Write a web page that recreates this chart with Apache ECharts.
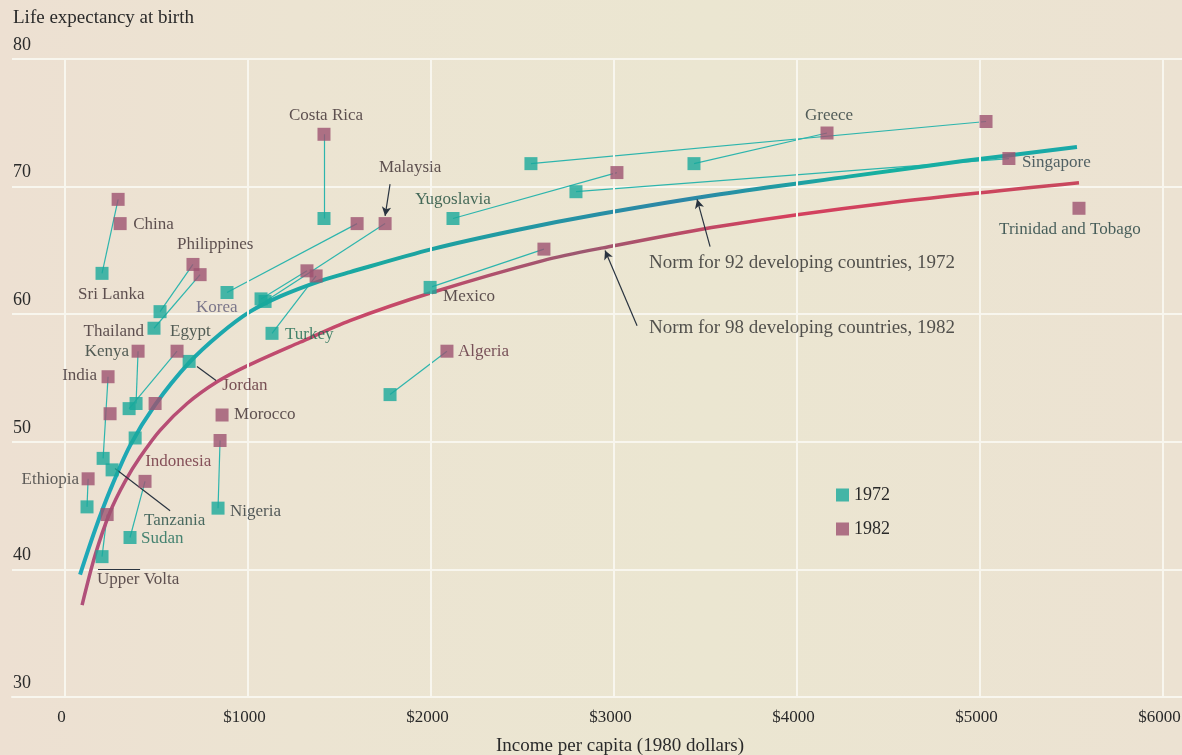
<!DOCTYPE html>
<html>
<head>
<meta charset="utf-8">
<script src="https://cdn.jsdelivr.net/npm/echarts@6/dist/echarts.min.js"></script>
<style>
  html, body { margin: 0; padding: 0; background: #ebe5d2; }
  #chart { width: 1182px; height: 755px; }
</style>
</head>
<body>
<div id="chart"></div>
<script>
// 国家数据：1972 与 1982 的人均收入（1980 美元）和出生时预期寿命
var countries  = ['Sri Lanka', 'China', 'Philippines', 'Thailand', 'Korea', 'Kenya', 'Egypt', 'Jordan', 'India', '', 'Indonesia', 'Morocco', 'Nigeria', 'Ethiopia', 'Tanzania', 'Sudan', 'Upper Volta', 'Costa Rica', 'Malaysia', 'Turkey', '', 'Yugoslavia', 'Mexico', 'Algeria', 'Greece', '', 'Singapore', 'Trinidad and Tobago'];
var income1972 = [202, null, 519, 486, 885, 388, 350, 678, 208, null, 383, null, 836, 120, 257, 355, 202, 1415, 1093, 1131, 1071, 2120, 1995, 1776, 3437, 2546, 2792, null];
var life1972   = [63.2, null, 60.2, 58.9, 61.7, 53.0, 52.6, 56.3, 48.7, null, 50.3, null, 44.8, 44.9, 47.8, 42.5, 41.0, 67.5, 61.0, 58.5, 61.2, 67.5, 62.1, 53.7, 71.8, 71.8, 69.6, null];
var income1982 = [290, 301, 699, 738, 1596, 399, 612, null, 235, 246, 492, 858, 847, 126, null, 437, 230, 1415, 1749, 1372, 1322, 3016, 2617, 2087, 4164, 5033, 5158, 5541];
var life1982   = [69.0, 67.1, 63.9, 63.1, 67.1, 57.1, 57.1, null, 55.1, 52.2, 53.0, 52.1, 50.1, 47.1, null, 46.9, 44.3, 74.1, 67.1, 63.0, 63.4, 71.1, 65.1, 57.1, 74.2, 75.1, 72.2, 68.3];

// 两条常模曲线（从图上读出的点）
var norm1972Income = [82, 164, 246, 355, 492, 678, 847, 1011, 1175, 1393, 1557, 2005, 2470, 2923, 3579, 4290, 4907, 5530];
var norm1972Life   = [39.6, 43.1, 46.2, 49.7, 52.9, 56.2, 58.45, 60.2, 61.4, 62.6, 63.3, 65.1, 66.6, 67.85, 69.4, 70.8, 72.0, 73.1];
var norm1982Income = [93, 164, 246, 328, 410, 519, 667, 831, 995, 1284, 1557, 2005, 2612, 2940, 3579, 4486, 5541];
var norm1982Life   = [37.2, 41.1, 44.5, 46.9, 48.8, 50.9, 53.0, 54.7, 55.95, 57.8, 59.5, 61.7, 64.2, 65.2, 66.9, 68.7, 70.3];

// 刻度
var xTicks = [0, 1000, 2000, 3000, 4000, 5000, 6000];
var yTicks = [30, 40, 50, 60, 70, 80];

// 标签位置和颜色（样式，不是数据）
var labelPlace = {
    'Sri Lanka':   {year: 72, dx: -24, dy: 21, align: 'left', color: '#3a2a2e'},
    'China':       {year: 82, dx: 13, dy: 1, align: 'left', color: '#3a2a2e'},
    'Philippines': {year: 82, dx: -16, dy: -20, align: 'left', color: '#3a2a2e'},
    'Thailand':    {year: 72, dx: -10, dy: 3, align: 'right', color: '#3a2a2e'},
    'Korea':       {year: 72, dx: -31, dy: 15, align: 'left', color: '#5e5a78'},
    'Kenya':       {year: 82, dx: -9, dy: 0, align: 'right', color: '#2a3a34'},
    'Egypt':       {year: 82, dx: -7, dy: -20, align: 'left', color: '#2a3a34'},
    'Jordan':      {year: 72, dx: 33, dy: 24, align: 'left', color: '#5a2a34'},
    'India':       {year: 82, dx: -11, dy: -1, align: 'right', color: '#3a2a2e'},
    'Indonesia':   {year: 72, dx: 10, dy: 24, align: 'left', color: '#6a2a3a'},
    'Morocco':     {year: 82, dx: 12, dy: 0, align: 'left', color: '#3a2a2e'},
    'Nigeria':     {year: 72, dx: 12, dy: 3, align: 'left', color: '#2a3438'},
    'Ethiopia':    {year: 82, dx: -9, dy: 1, align: 'right', color: '#3a3a3a'},
    'Tanzania':    {year: 72, dx: 32, dy: 51, align: 'left', color: '#1f4a42'},
    'Sudan':       {year: 72, dx: 11, dy: 1, align: 'left', color: '#1a6a58'},
    'Upper Volta': {year: 72, dx: -5, dy: 23, align: 'left', color: '#3a2a2e'},
    'Costa Rica':  {year: 82, dx: 2, dy: -19, align: 'center', color: '#3a2a2e'},
    'Malaysia':    {year: 82, dx: 25, dy: -56, align: 'center', color: '#3a2a2e'},
    'Turkey':      {year: 72, dx: 13, dy: 1, align: 'left', color: '#1a6a50'},
    'Yugoslavia':  {year: 72, dx: 0, dy: -19, align: 'center', color: '#1a4a3a'},
    'Mexico':      {year: 72, dx: 13, dy: 9, align: 'left', color: '#3a2a2e'},
    'Algeria':     {year: 82, dx: 11, dy: 0, align: 'left', color: '#5a2a3a'},
    'Greece':      {year: 82, dx: 2, dy: -17, align: 'center', color: '#2a3a3a'},
    'Singapore':   {year: 82, dx: 13, dy: 4, align: 'left', color: '#2a4048'},
    'Trinidad and Tobago': {year: 82, dx: -9, dy: 21, align: 'center', color: '#1a3a3a'}
};

var font = 'Liberation Serif';
var teal = '#19a99b';
var mauve = '#9e5270';

var pts1972 = [], pts1982 = [], links = [], names = [];
countries.forEach(function (c, i) {
    if (income1972[i] != null) pts1972.push([income1972[i], life1972[i]]);
    if (income1982[i] != null) pts1982.push([income1982[i], life1982[i]]);
    if (income1972[i] != null && income1982[i] != null) {
        links.push({coords: [[income1972[i], life1972[i]], [income1982[i], life1982[i]]]});
    }
    var p = labelPlace[c];
    if (c && p) {
        var v = p.year === 72 ? [income1972[i], life1972[i]] : [income1982[i], life1982[i]];
        names.push({
            name: c, value: v,
            label: {offset: [p.dx, p.dy], align: p.align, color: p.color}
        });
    }
});

function pairs(xs, ys) {
    return xs.map(function (x, i) { return [x, ys[i]]; });
}

var myChart = echarts.init(document.getElementById('chart'));

var option = {
    animation: false,
    backgroundColor: {
        type: 'linear', x: 0, y: 0, x2: 1, y2: 0,
        colorStops: [
            {offset: 0, color: '#ede0d2'},
            {offset: 0.25, color: '#ece4d2'},
            {offset: 0.6, color: '#ebe6d1'},
            {offset: 1, color: '#ece2d2'}
        ]
    },
    title: {
        text: 'Life expectancy at birth',
        left: 13, top: 9, padding: 0,
        textStyle: {fontFamily: font, fontSize: 19, fontWeight: 'normal', color: '#2a2a2a'}
    },
    legend: {
        data: ['1972', '1982'],
        orient: 'vertical',
        left: 831, top: 481,
        icon: 'rect',
        itemWidth: 13, itemHeight: 13, itemGap: 16,
        textStyle: {fontFamily: font, fontSize: 18, color: '#2a2a2a'}
    },
    grid: {left: 12, right: 0, top: 59, bottom: 58, outerBoundsMode: 'none'},
    xAxis: {
        type: 'value',
        min: -290, max: 6104,
        name: 'Income per capita (1980 dollars)',
        nameLocation: 'middle',
        nameGap: 40,
        nameTextStyle: {fontFamily: font, fontSize: 19, color: '#2a2a2a', padding: [0, 0, 0, 46]},
        axisLine: {show: true, lineStyle: {color: '#f8f6ee', width: 2}},
        axisTick: {show: false},
        splitLine: {show: false},
        axisLabel: {
            customValues: xTicks,
            margin: 12,
            padding: [0, 7, 0, 0],
            fontFamily: font, fontSize: 17,
            color: function (v) { return v === 0 ? '#888' : '#2a2a2a'; },
            formatter: function (v) { return v === 0 ? '0' : '$' + v; }
        }
    },
    yAxis: {
        type: 'value',
        min: 30, max: 80, interval: 10,
        axisLine: {show: false},
        axisTick: {show: false},
        splitLine: {lineStyle: {color: '#f8f6ee', width: 2}},
        axisLabel: {
            inside: true, margin: 1,
            verticalAlign: 'bottom',
            padding: [0, 0, 5, 0],
            fontFamily: font, fontSize: 18, color: '#2a2a2a'
        }
    },
    series: [
        {
            // 竖向网格线
            type: 'line', data: [], z: 1, silent: true,
            markLine: {
                silent: true, symbol: 'none', label: {show: false},
                lineStyle: {color: '#f8f6ee', width: 2, type: 'solid'},
                data: xTicks.map(function (v) { return {xAxis: v}; })
            }
        },
        {
            type: 'lines', coordinateSystem: 'cartesian2d', z: 3,
            lineStyle: {color: '#2db5ad', width: 1.2, opacity: 1},
            data: links
        },
        {
            type: 'line', smooth: 0.3, showSymbol: false, z: 4,
            data: pairs(norm1982Income, norm1982Life),
            lineStyle: {
                width: 3.5,
                color: {
                    type: 'linear', x: 0, y: 0, x2: 1, y2: 0,
                    colorStops: [
                        {offset: 0, color: '#b0507a'},
                        {offset: 0.3, color: '#c84868'},
                        {offset: 0.5, color: '#9c5870'},
                        {offset: 0.7, color: '#d4405e'},
                        {offset: 1, color: '#c8485e'}
                    ]
                }
            }
        },
        {
            type: 'line', smooth: 0.3, showSymbol: false, z: 4,
            data: pairs(norm1972Income, norm1972Life),
            lineStyle: {
                width: 4,
                color: {
                    type: 'linear', x: 0, y: 0, x2: 1, y2: 0,
                    colorStops: [
                        {offset: 0, color: '#1fa8b8'},
                        {offset: 0.3, color: '#1aa8a0'},
                        {offset: 0.6, color: '#2c86a6'},
                        {offset: 0.8, color: '#16b0a0'},
                        {offset: 1, color: '#1aa8a8'}
                    ]
                }
            }
        },
        {
            name: '1972', type: 'scatter', symbol: 'rect', symbolSize: 13, z: 5,
            itemStyle: {color: teal},
            data: pts1972
        },
        {
            name: '1982', type: 'scatter', symbol: 'rect', symbolSize: 13, z: 5,
            itemStyle: {color: mauve},
            data: pts1982
        },
        {
            // 国家名称
            type: 'scatter', symbolSize: 1, z: 6, silent: true,
            itemStyle: {color: 'transparent'},
            label: {
                show: true, position: 'inside',
                formatter: '{b}', verticalAlign: 'middle',
                fontFamily: font, fontSize: 17
            },
            data: names
        },
        {
            // 注释与箭头
            type: 'scatter', symbolSize: 1, z: 6, silent: true,
            itemStyle: {color: 'transparent'},
            label: {
                show: true, position: 'inside', align: 'left', verticalAlign: 'middle',
                formatter: '{b}', fontFamily: font, fontSize: 19, color: '#2a2a2a'
            },
            data: [
                {name: 'Norm for 92 developing countries, 1972', value: [3191, 64.0]},
                {name: 'Norm for 98 developing countries, 1982', value: [3191, 58.9]}
            ],
            markLine: {
                silent: true, label: {show: false},
                symbol: ['none', 'arrow'], symbolSize: [7, 9],
                lineStyle: {color: '#2a3440', width: 1.2, type: 'solid'},
                data: [
                    [{coord: [3525, 65.3]}, {coord: [3454, 69.0]}],
                    [{coord: [3126, 59.1]}, {coord: [2951, 65.0]}],
                    [{coord: [1776, 70.2]}, {coord: [1749, 67.7]}],
                    [{coord: [825, 54.8], symbol: 'none'}, {coord: [721, 55.9], symbol: 'none'}],
                    [{coord: [574, 44.6], symbol: 'none'}, {coord: [273, 47.9], symbol: 'none'}],
                    [{coord: [180, 40.0], symbol: 'none'}, {coord: [410, 40.0], symbol: 'none'}]
                ]
            }
        }
    ]
};

myChart.setOption(option);
</script>
</body>
</html>
